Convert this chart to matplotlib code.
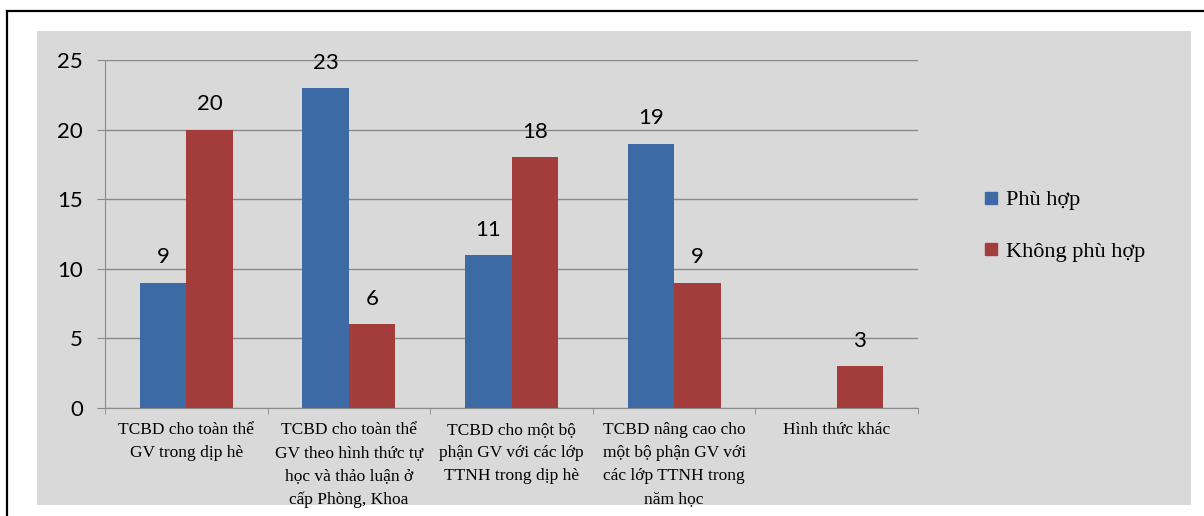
import matplotlib.pyplot as plt
from matplotlib.patches import Rectangle
from matplotlib.lines import Line2D
import numpy as np

categories = [
    "TCBD cho toàn thể\nGV trong dịp hè",
    "TCBD cho toàn thể\nGV theo hình thức tự\nhọc và thảo luận ở\ncấp Phòng, Khoa",
    "TCBD cho một bộ\nphận GV với các lớp\nTTNH trong dịp hè",
    "TCBD nâng cao cho\nmột bộ phận GV với\ncác lớp TTNH trong\nnăm học",
    "Hình thức khác",
]
phu_hop = [9, 23, 11, 19, None]
khong_phu_hop = [20, 6, 18, 9, 3]
series_names = ["Phù hợp", "Không phù hợp"]
y_ticks = [0, 5, 10, 15, 20, 25]

blue = "#3d6aa5"
red = "#a33d3b"
W, H = 1204, 516

fig = plt.figure(figsize=(W / 100, H / 100), dpi=100)

# gray chart area and the outer frame
fig.patches.append(Rectangle((37 / W, 1 - 505 / H), (1191 - 37) / W, (505 - 31) / H,
                             transform=fig.transFigure, facecolor="#d9d9d9",
                             edgecolor="none", zorder=-2))
fig.lines.append(Line2D([7 / W, 7 / W], [0, 1 - 11 / H], transform=fig.transFigure,
                        color="black", lw=1.6))
fig.lines.append(Line2D([7 / W, 1], [1 - 11 / H, 1 - 11 / H], transform=fig.transFigure,
                        color="black", lw=1.6))

ax = fig.add_axes([105 / W, 1 - 408 / H, (918 - 105) / W, (408 - 60) / H])
ax.set_facecolor("none")

x = np.arange(len(categories))
bw = 0.2857
for vals, color, off, name in [(phu_hop, blue, -bw / 2, series_names[0]),
                               (khong_phu_hop, red, bw / 2, series_names[1])]:
    xs = [xi + off for xi, v in zip(x, vals) if v is not None]
    vs = [v for v in vals if v is not None]
    ax.bar(xs, vs, width=bw, color=color, label=name, zorder=3)
    for xi, v in zip(xs, vs):
        ax.annotate(str(v), (xi, v), xytext=(0, 11), textcoords="offset points",
                    ha="center", va="bottom", fontsize=16, family="Lato")

ax.set_xlim(-0.5, len(categories) - 0.5)
ax.set_ylim(0, 25)
ax.set_yticks(y_ticks)
ax.set_yticklabels([str(t) for t in y_ticks], fontsize=16, family="Lato")
ax.yaxis.grid(True, color="#8a8a8a", lw=1, zorder=0)
ax.set_axisbelow(True)

ax.set_xticks(x)
ax.set_xticklabels(categories, fontsize=12.5, family="Liberation Serif",
                   linespacing=1.6, va="top")
ax.set_xticks(np.arange(len(categories) + 1) - 0.5, minor=True)
ax.tick_params(axis="x", which="major", length=0, pad=10)
ax.tick_params(axis="x", which="minor", length=4, color="#8a8a8a")
ax.tick_params(axis="y", length=6, color="#8a8a8a", pad=10)

for side in ["top", "right"]:
    ax.spines[side].set_visible(False)
ax.spines["left"].set_color("#8a8a8a")
ax.spines["bottom"].set_color("#8a8a8a")

handles = [Line2D([], [], marker="s", ls="none", color=c, markersize=8) for c in (blue, red)]
fig.legend(handles, series_names, loc="center left",
           bbox_to_anchor=(960 / W, 1 - 226 / H), frameon=False,
           prop={"family": "Liberation Serif", "size": 16},
           labelspacing=1.4, handletextpad=0.15, handlelength=1.0)

fig.savefig("out.png", dpi=100)
